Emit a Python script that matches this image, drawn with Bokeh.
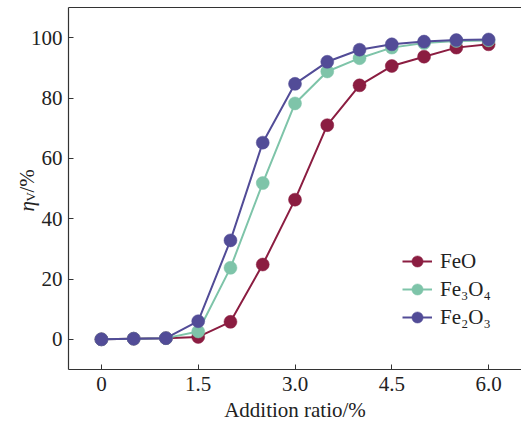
import math
from bokeh.plotting import figure
from bokeh.models import Range1d, FixedTicker, LinearAxis, Label, Legend, LegendItem
from bokeh.embed import file_html
from bokeh.resources import INLINE

# ---- data ----
ratio = [0, 0.5, 1.0, 1.5, 2.0, 2.5, 3.0, 3.5, 4.0, 4.5, 5.0, 5.5, 6.0]
feo   = [0, 0.2, 0.4, 0.8, 5.8, 24.8, 46.3, 71.0, 84.2, 90.6, 93.7, 96.7, 97.8]
fe3o4 = [0, 0.2, 0.4, 2.6, 23.7, 51.8, 78.2, 88.8, 93.2, 96.7, 98.2, 98.9, 99.1]
fe2o3 = [0, 0.2, 0.4, 6.0, 32.8, 65.2, 84.7, 92.0, 96.0, 97.8, 98.7, 99.2, 99.4]
series_names = ["FeO", "Fe\u2083O\u2084", "Fe\u2082O\u2083"]
series_colors = ["#8B1D41", "#7EC4A9", "#524C97"]
x_ticks = [0, 1.5, 3.0, 4.5, 6.0]
x_tick_labels = {0: "0", 1.5: "1.5", 3.0: "3.0", 4.5: "4.5", 6.0: "6.0"}
y_ticks = [0, 20, 40, 60, 80, 100]
x_lim = (-0.51, 6.51)
y_lim = (-10, 110)

FONT = "Liberation Serif"
FS = "21px"
AX = "#333333"
TXT = "#222222"

W, H = 521, 425
# pixel box of the axes area inside the canvas
BL, BT, BR, BB = 68, 7, 521, 369

# extend the ranges so that the whole canvas is the frame
kx = (x_lim[1] - x_lim[0]) / (BR - BL)
ky = (y_lim[1] - y_lim[0]) / (BB - BT)
xr = Range1d(x_lim[0] - BL * kx, x_lim[1] + (W - BR) * kx)
yr = Range1d(y_lim[0] - (H - BB) * ky, y_lim[1] + BT * ky)

def dx(px):
    return x_lim[0] + (px - BL) * kx
def dy(py):
    return y_lim[0] + (BB - py) * ky

p = figure(width=W, height=H, output_backend="svg", toolbar_location=None,
           x_range=xr, y_range=yr,
           min_border_left=0, min_border_top=0, min_border_bottom=0,
           min_border_right=0)
p.outline_line_color = None
p.grid.visible = False
p.background_fill_color = "white"
p.border_fill_color = "white"

for ax in (p.xaxis[0], p.yaxis[0]):
    ax.axis_line_color = AX
    ax.axis_line_width = 1.2
    ax.major_tick_line_color = AX
    ax.major_tick_in = 5
    ax.major_tick_out = 0
    ax.minor_tick_line_color = None
    ax.major_label_text_font = FONT
    ax.major_label_text_font_size = FS
    ax.major_label_text_color = TXT

xa = p.xaxis[0]
xa.fixed_location = y_lim[0]
xa.bounds = x_lim
xa.ticker = FixedTicker(ticks=x_ticks)
xa.major_label_overrides = {k: v for k, v in x_tick_labels.items()}
xa.major_label_standoff = 7
xa.axis_label = "Addition ratio/%"
xa.axis_label_text_font = FONT
xa.axis_label_text_font_size = FS
xa.axis_label_text_font_style = "normal"
xa.axis_label_text_color = TXT
xa.axis_label_standoff = 4

ya = p.yaxis[0]
ya.fixed_location = x_lim[0]
ya.bounds = y_lim
ya.ticker = FixedTicker(ticks=y_ticks)
ya.major_label_standoff = 6

top = LinearAxis(ticker=FixedTicker(ticks=[]), axis_line_color=AX, axis_line_width=1.2,
                 major_tick_line_color=None, minor_tick_line_color=None,
                 major_label_text_font_size="0px", major_label_standoff=0,
                 major_tick_out=0, major_tick_in=0,
                 fixed_location=y_lim[1], bounds=x_lim)
p.add_layout(top, "above")

items = []
for name, ys, col in zip(series_names, [feo, fe3o4, fe2o3], series_colors):
    l = p.line(ratio, ys, line_color=col, line_width=2)
    s = p.scatter(ratio, ys, size=13, fill_color=col, line_color=col, line_width=0.5)
    items.append(LegendItem(label=name, renderers=[l, s]))

leg = Legend(items=items, location=(402, 94), padding=0, margin=0,
             border_line_color=None, background_fill_alpha=0,
             glyph_width=30, glyph_height=28, label_height=20, spacing=-1,
             label_standoff=8, label_text_font=FONT, label_text_font_size=FS,
             label_text_color=TXT)
p.add_layout(leg)

# y-axis label built from pieces (italic eta, subscript V, "/%")
ang = math.pi / 2
common = dict(angle=ang, text_color=TXT, text_align="left",
              text_baseline="alphabetic", text_font=FONT)
p.add_layout(Label(x=dx(26), y=dy(211), text="\u03b7", text_font_style="italic",
                   text_font_size=FS, **common))
p.add_layout(Label(x=dx(30), y=dy(201), text="V", text_font_size="13px", **common))
p.add_layout(Label(x=dx(26), y=dy(192), text="/%", text_font_size=FS, **common))

open("out.html", "w").write(file_html(p, INLINE))
